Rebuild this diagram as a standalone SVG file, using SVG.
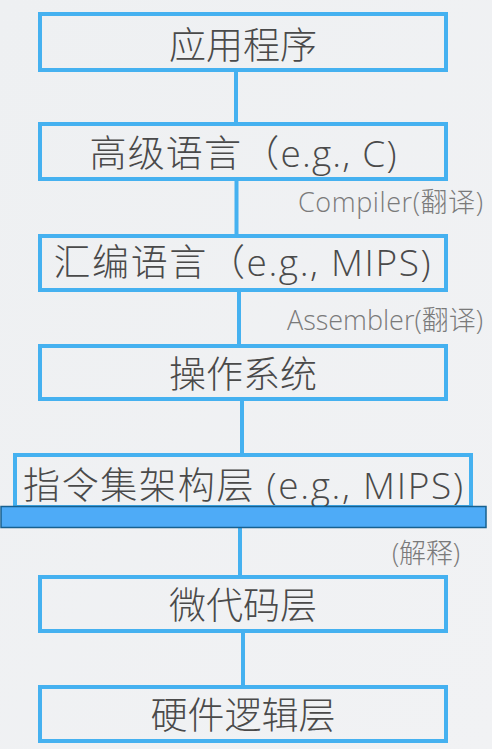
<svg xmlns="http://www.w3.org/2000/svg" width="492" height="749" viewBox="0 0 492 749">
<defs>
<linearGradient id="bg" x1="0" y1="0" x2="1" y2="1">
<stop offset="0" stop-color="#eef0f2"/>
<stop offset="1" stop-color="#f1f2f4"/>
</linearGradient>
<style>
.box{fill:none;stroke:#45b1f0;stroke-width:4}
.conn{stroke:#45b1f0;stroke-width:4;fill:none}
.t{font-family:"Open Sans","Noto Sans CJK SC",sans-serif;font-size:37px;fill:#4a4a4a;text-anchor:middle;font-weight:300}
.lab{font-family:"Open Sans","Noto Sans CJK SC",sans-serif;font-size:27px;fill:#7a7a7a;font-weight:300}
</style>
</defs>
<rect width="492" height="749" fill="url(#bg)"/>
<g id="connectors">
<line class="conn" x1="236" y1="72" x2="236" y2="122"/>
<line class="conn" x1="236.5" y1="181" x2="236.5" y2="234"/>
<line class="conn" x1="239" y1="292" x2="239" y2="344"/>
<line class="conn" x1="242" y1="401" x2="242" y2="453"/>
<line class="conn" x1="240" y1="528" x2="240" y2="575"/>
<line class="conn" x1="243" y1="633" x2="243" y2="685"/>
</g>
<g id="app">
<rect class="box" x="40" y="14" width="406" height="56"/>
<text class="t" x="243" y="59">应用程序</text>
</g>
<g id="hll">
<rect class="box" x="40" y="124" width="406" height="55"/>
<text class="t" x="243" y="167" textLength="307">高级语言（e.g., C)</text>
</g>
<g id="compiler">
<text class="lab" x="298" y="212" textLength="185">Compiler(翻译)</text>
</g>
<g id="asm">
<rect class="box" x="40" y="236" width="406" height="54"/>
<text class="t" x="242" y="276" textLength="377">汇编语言（e.g., MIPS)</text>
</g>
<g id="assembler">
<text class="lab" x="287" y="330" textLength="196">Assembler(翻译)</text>
</g>
<g id="os">
<rect class="box" x="40" y="346" width="406" height="53"/>
<text class="t" x="243" y="388">操作系统</text>
</g>
<g id="isa">
<rect class="box" x="15" y="455" width="456" height="52"/>
<text class="t" x="243" y="499" textLength="440">指令集架构层 (e.g., MIPS)</text>
<rect x="1" y="506.5" width="485" height="21" fill="#4eabf7" stroke="#17608f" stroke-width="1.5"/>
</g>
<g id="interpret">
<text class="lab" x="392" y="563" textLength="68">(解释)</text>
</g>
<g id="micro">
<rect class="box" x="40" y="577" width="406" height="54"/>
<text class="t" x="243" y="619">微代码层</text>
</g>
<g id="hw">
<rect class="box" x="40" y="687" width="406" height="54"/>
<text class="t" x="243" y="729">硬件逻辑层</text>
</g>
</svg>
